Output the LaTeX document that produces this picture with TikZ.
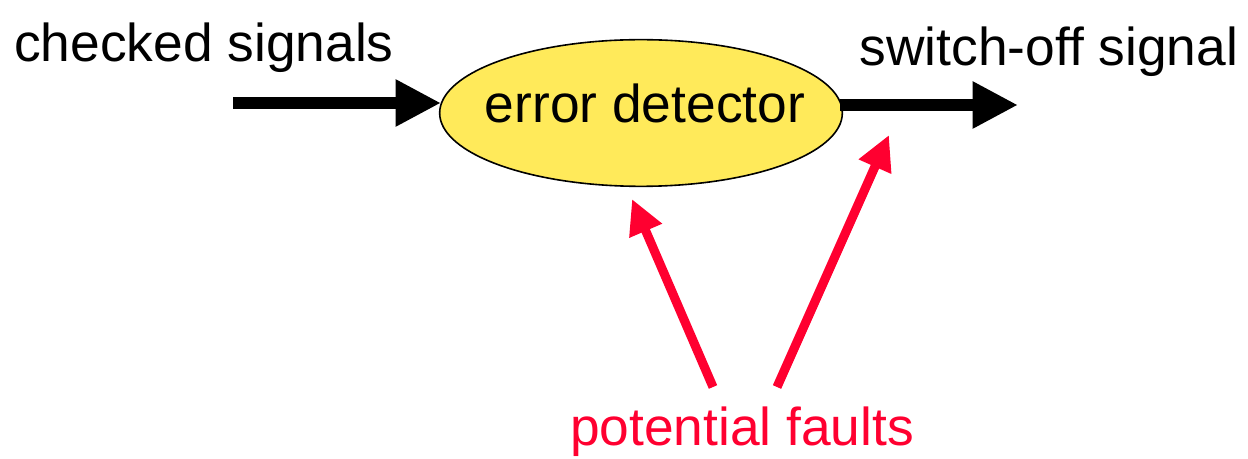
\documentclass[tikz,border=0pt]{standalone}
\usepackage{fontspec}
\setmainfont{Liberation Sans}
\usetikzlibrary{arrows.meta,shapes.geometric}
\definecolor{fred}{HTML}{FF0030}
\definecolor{eyellow}{HTML}{FFEA5A}
\begin{document}
\begin{tikzpicture}[x=0.75pt,y=-0.75pt,
  lbl/.style={font=\fontsize{40}{45}\selectfont, inner sep=0pt},
  blackarrow/.style={line width=9pt, -{Triangle[length=34pt,width=33pt]}},
  redarrow/.style={fred, line width=6.8pt, -{Triangle[length=26pt,width=25pt]}}]
\useasboundingbox (0,0) rectangle (1248,459);
\node[ellipse, draw, line width=1.2pt, fill=eyellow, minimum width=302pt, minimum height=110pt, inner sep=0pt] (det) at (641,113) {};
\node[lbl] (dettxt) at (645,103) {error detector};
\node[lbl] (chk) at (204,48) {checked signals};
\node[lbl] (sw) at (1049,52) {switch-off signal};
\node[lbl, text=fred] (pf) at (742,432) {potential faults};
\coordinate (inS) at (233,103);
\coordinate (inE) at (441,103);
\coordinate (outS) at (840,105);
\coordinate (outE) at (1018,105);
\coordinate (f1s) at (713,387);
\coordinate (f1e) at (632,199);
\coordinate (f2s) at (777,387);
\coordinate (f2e) at (889,135);
\draw[blackarrow] (inS) -- (inE);
\draw[blackarrow] (outS) -- (outE);
\draw[redarrow] (f1s) -- (f1e);
\draw[redarrow] (f2s) -- (f2e);
\end{tikzpicture}
\end{document}
